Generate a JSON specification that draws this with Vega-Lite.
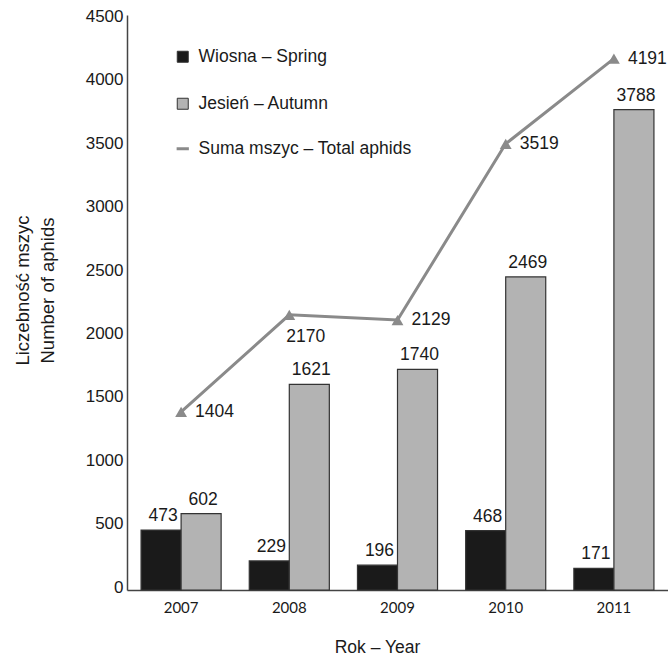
{
  "$schema": "https://vega.github.io/schema/vega-lite/v6.json",
  "autosize": {"type": "none"},
  "padding": {"left": 127, "top": 15, "right": 0, "bottom": 67},
  "width": 541,
  "height": 575,
  "background": "white",
  "config": {
    "view": {"stroke": null},
    "font": "Liberation Sans",
    "axis": {"domainColor": "#444444", "domainWidth": 1.5, "ticks": false, "grid": false, "labelColor": "#1a1a1a", "titleColor": "#1a1a1a", "titleFontWeight": "normal", "titleFont": "Liberation Sans"}
  },
  "datasets": {
    "bars": [
      {"year": "2007", "series": "Wiosna – Spring", "value": 473},
      {"year": "2007", "series": "Jesień – Autumn", "value": 602},
      {"year": "2008", "series": "Wiosna – Spring", "value": 229},
      {"year": "2008", "series": "Jesień – Autumn", "value": 1621},
      {"year": "2009", "series": "Wiosna – Spring", "value": 196},
      {"year": "2009", "series": "Jesień – Autumn", "value": 1740},
      {"year": "2010", "series": "Wiosna – Spring", "value": 468},
      {"year": "2010", "series": "Jesień – Autumn", "value": 2469},
      {"year": "2011", "series": "Wiosna – Spring", "value": 171},
      {"year": "2011", "series": "Jesień – Autumn", "value": 3788}
    ],
    "totals": [
      {"year": "2007", "total": 1404},
      {"year": "2008", "total": 2170},
      {"year": "2009", "total": 2129},
      {"year": "2010", "total": 3519},
      {"year": "2011", "total": 4191}
    ]
  },
  "encoding": {
    "x": {
      "field": "year", "type": "nominal",
      "scale": {"paddingInner": 0.26, "paddingOuter": 0.13},
      "axis": {"labelAngle": 0, "labelFont": "Lato", "labelFontSize": 15, "labelPadding": 10, "title": "Rok – Year", "titleFontSize": 17.5, "titleX": 250, "titleY": 57, "titleBaseline": "middle"}
    },
    "y": {
      "type": "quantitative",
      "scale": {"domain": [0, 4535], "nice": false},
      "axis": {"values": [0, 500, 1000, 1500, 2000, 2500, 3000, 3500, 4000, 4500], "format": "d", "labelFontSize": 17, "labelPadding": 4, "labelOffset": -3,
        "title": ["Liczebność mszyc", "Number of aphids"], "titleFontSize": 18.5, "titleLineHeight": 25, "titleAngle": -90, "titleX": -105, "titleY": 275, "titleAlign": "center", "titleBaseline": "middle"}
    }
  },
  "layer": [
    {
      "data": {"name": "bars"},
      "mark": {"type": "bar", "stroke": "#333333", "strokeWidth": 1.2},
      "encoding": {
        "y": {"field": "value", "type": "quantitative"},
        "xOffset": {"field": "series", "type": "nominal", "scale": {"domain": ["Wiosna – Spring", "Jesień – Autumn"], "paddingInner": 0, "paddingOuter": 0}},
        "fill": {
          "field": "series", "type": "nominal",
          "scale": {"domain": ["Wiosna – Spring", "Jesień – Autumn"], "range": ["#1a1a1a", "#b3b3b3"]},
          "legend": {
            "orient": "none", "legendX": 47, "legendY": 33, "title": null,
            "symbolType": "square", "symbolSize": 121, "symbolStrokeColor": "#333333", "symbolStrokeWidth": 1,
            "labelFontSize": 17.5, "labelFont": "Liberation Sans", "labelColor": "#1a1a1a", "labelLimit": 400,
            "rowPadding": 28, "labelOffset": 7, "symbolOpacity": 1
          }
        }
      }
    },
    {
      "data": {"name": "bars"},
      "mark": {"type": "text", "baseline": "bottom", "dy": -5, "dx": 2, "fontSize": 17.5, "color": "#1a1a1a"},
      "encoding": {
        "y": {"field": "value", "type": "quantitative"},
        "xOffset": {"field": "series", "type": "nominal"},
        "text": {"field": "value", "type": "quantitative"}
      }
    },
    {
      "data": {"name": "totals"},
      "mark": {"type": "line", "strokeWidth": 3},
      "encoding": {
        "y": {"field": "total", "type": "quantitative"},
        "stroke": {
          "datum": "Suma mszyc – Total aphids", "type": "nominal",
          "scale": {"domain": ["Suma mszyc – Total aphids"], "range": ["#8a8a8a"]},
          "legend": {
            "orient": "none", "legendX": 47, "legendY": 125, "title": null,
            "symbolType": "stroke", "symbolSize": 150, "symbolStrokeWidth": 3,
            "labelFontSize": 17.5, "labelFont": "Liberation Sans", "labelColor": "#1a1a1a", "labelLimit": 400,
            "labelOffset": 7, "symbolOpacity": 1
          }
        }
      }
    },
    {
      "data": {"name": "totals"},
      "mark": {"type": "point", "shape": "triangle-up", "filled": true, "size": 140, "color": "#8a8a8a", "opacity": 1},
      "encoding": {
        "y": {"field": "total", "type": "quantitative"}
      }
    },
    {
      "data": {"name": "totals"},
      "transform": [{"filter": "datum.year !== '2008'"}],
      "mark": {"type": "text", "align": "left", "baseline": "middle", "dx": 14, "fontSize": 17.5, "color": "#1a1a1a"},
      "encoding": {
        "y": {"field": "total", "type": "quantitative"},
        "text": {"field": "total", "type": "quantitative"}
      }
    },
    {
      "data": {"name": "totals"},
      "transform": [{"filter": "datum.year === '2008'"}],
      "mark": {"type": "text", "align": "left", "baseline": "middle", "dx": -3, "dy": 22, "fontSize": 17.5, "color": "#1a1a1a"},
      "encoding": {
        "y": {"field": "total", "type": "quantitative"},
        "text": {"field": "total", "type": "quantitative"}
      }
    },
    {
      "mark": {"type": "rule", "color": "#444444", "strokeWidth": 1.5},
      "encoding": {"y": {"datum": 4535}}
    }
  ]
}
